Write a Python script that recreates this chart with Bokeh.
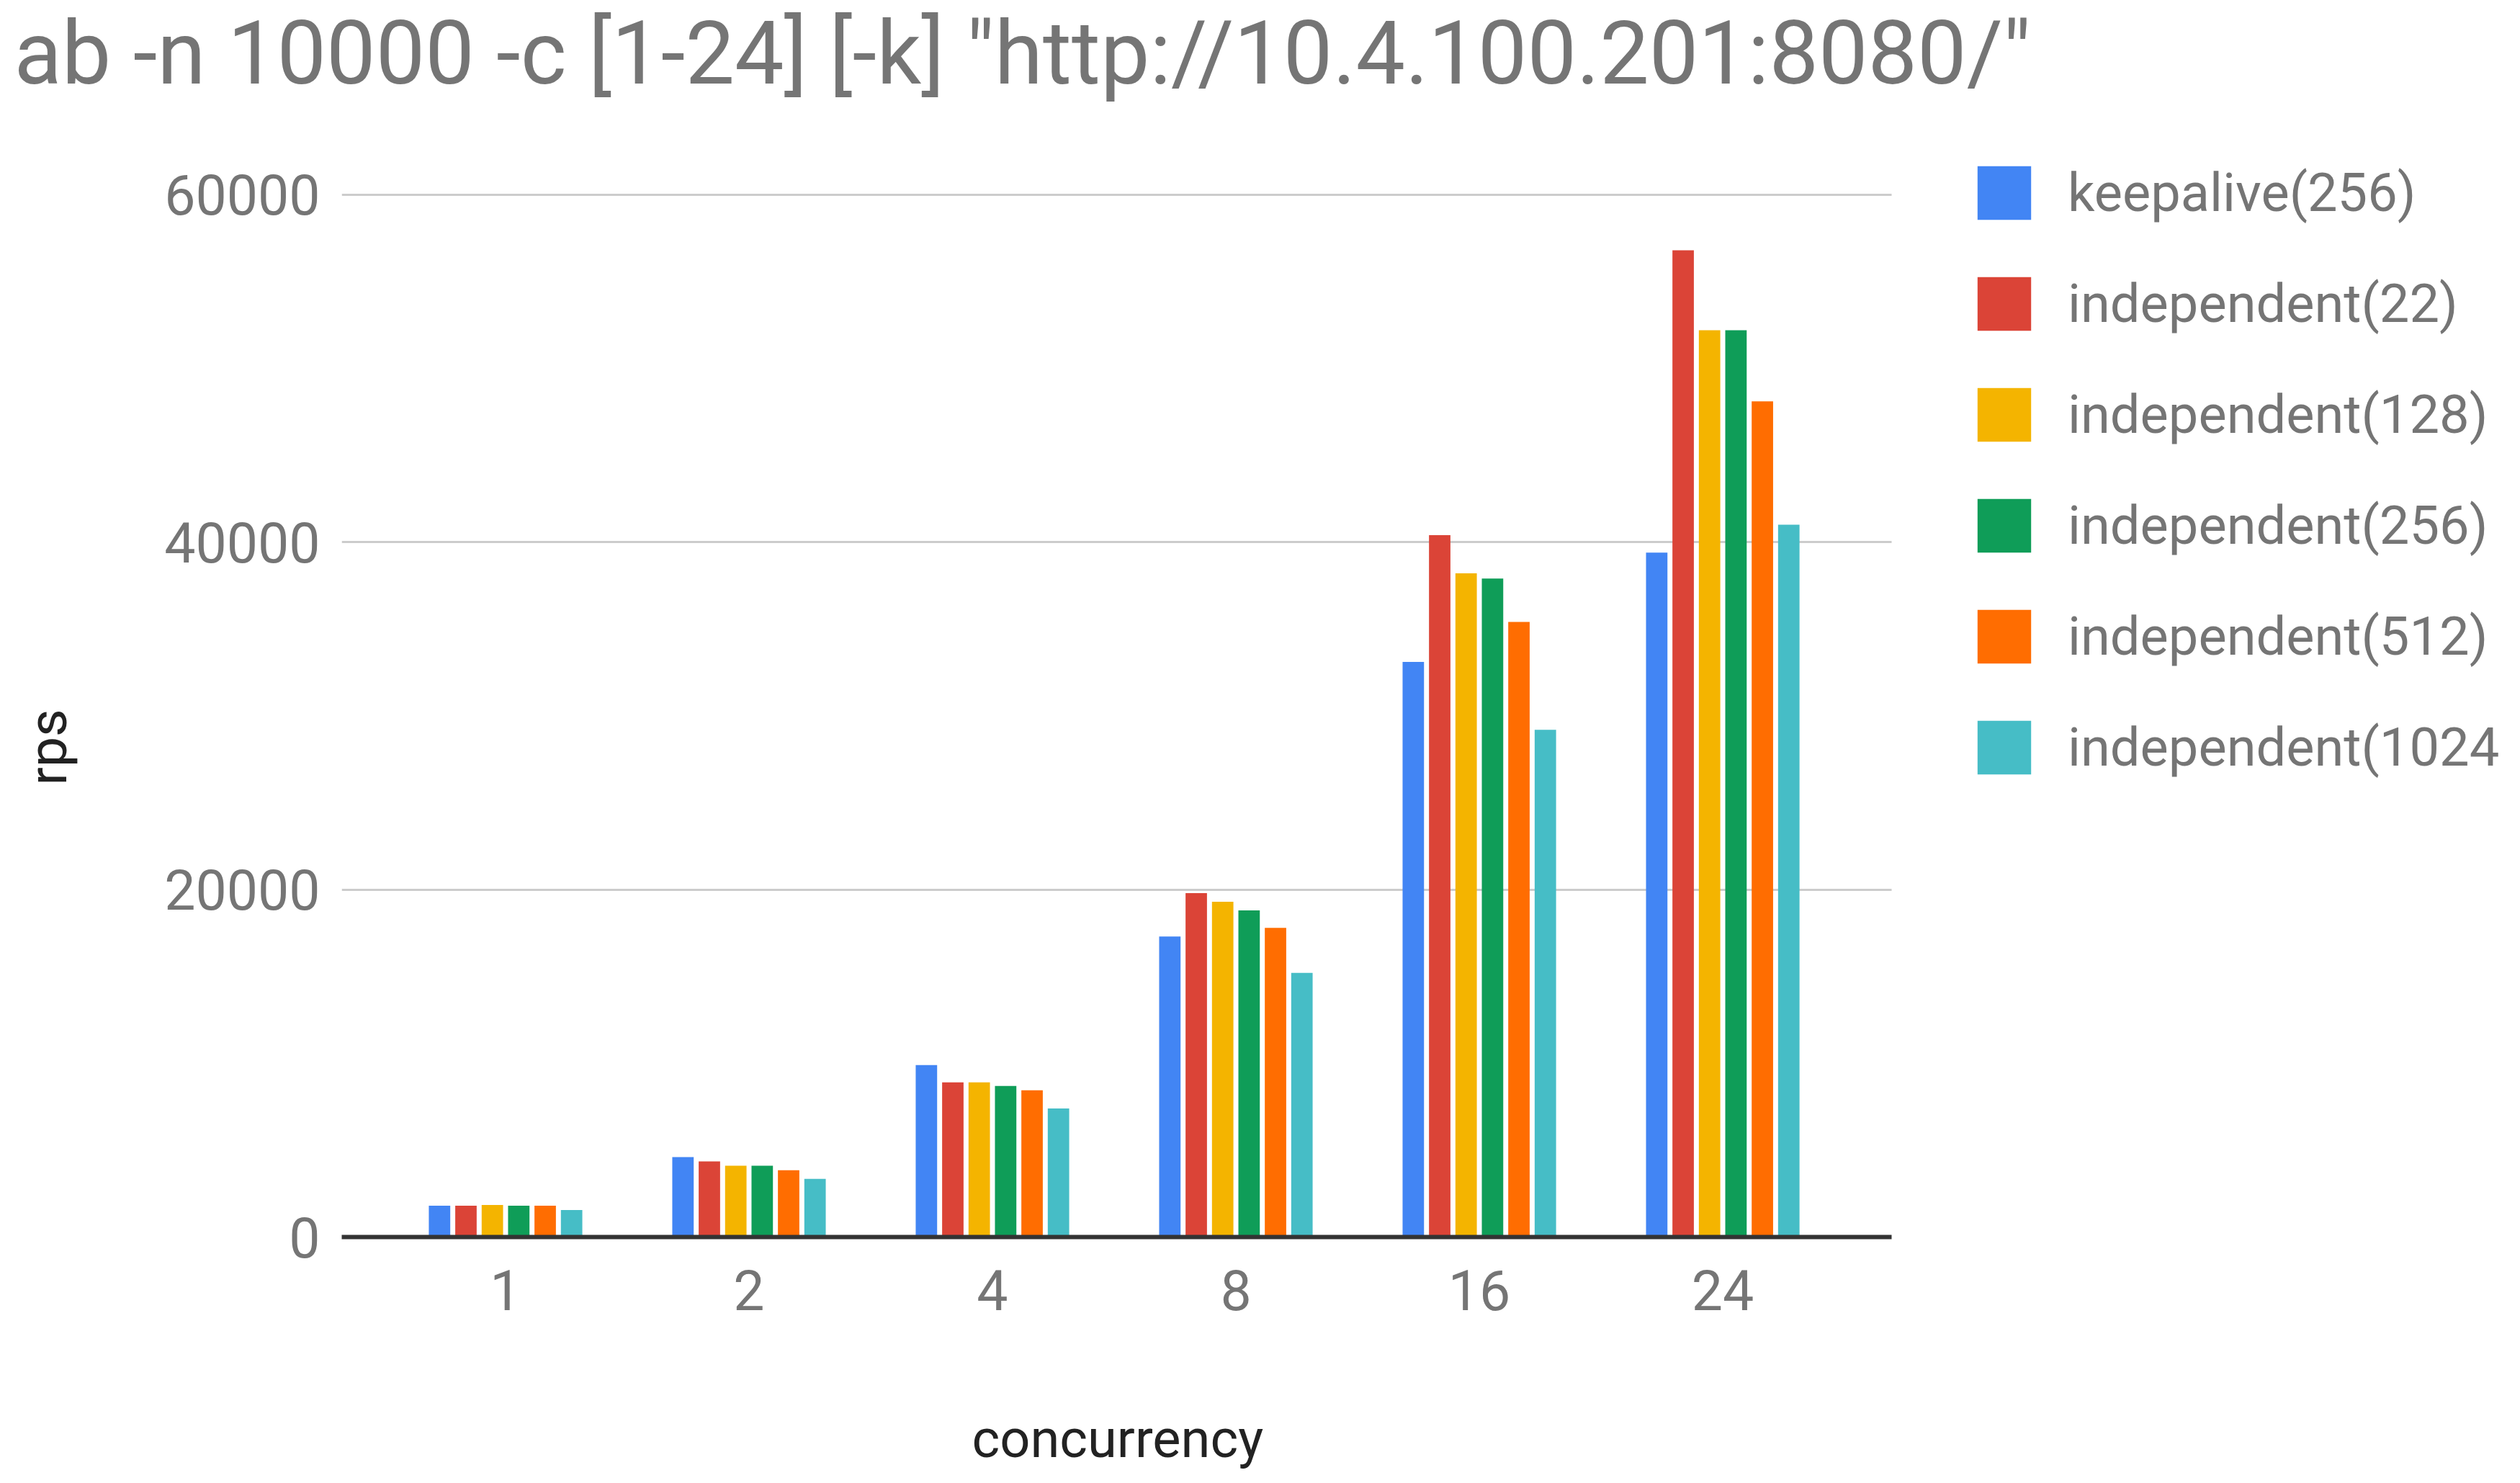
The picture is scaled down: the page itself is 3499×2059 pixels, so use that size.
from bokeh.plotting import figure
from bokeh.models import (Range1d, FixedTicker, Legend, LegendItem, ColumnDataSource,
                          LinearAxis, Title)
from bokeh.transform import dodge
from bokeh.embed import file_html
from bokeh.resources import INLINE

# ---- data ----
categories = ["1", "2", "4", "8", "16", "24"]
keepalive_256 = [1800, 4600, 9900, 17300, 33100, 39400]
independent_22 = [1800, 4350, 8900, 19800, 40400, 56800]
independent_128 = [1850, 4100, 8900, 19300, 38200, 52200]
independent_256 = [1800, 4100, 8700, 18800, 37900, 52200]
independent_512 = [1800, 3850, 8450, 17800, 35400, 48100]
independent_1024 = [1550, 3350, 7400, 15200, 29200, 41000]
series_names = ["keepalive(256)", "independent(22)", "independent(128)",
                "independent(256)", "independent(512)", "independent(1024"]
y_ticks = [0, 20000, 40000, 60000]
title_text = 'ab -n 10000 -c [1-24] [-k] "http://10.4.100.201:8080/"'
x_title = "concurrency"
y_title = "rps"

colors = ["#4285F4", "#DB4437", "#F4B400", "#0F9D58", "#FF6D01", "#46BDC6"]
FONT = "Roboto"

positions = list(range(len(categories)))
source = ColumnDataSource(data=dict(
    xi=positions, c=categories,
    s0=keepalive_256, s1=independent_22, s2=independent_128,
    s3=independent_256, s4=independent_512, s5=independent_1024,
))

# plot area spans to the right edge so that the legend can sit inside it
X_START, X_AXIS_END, X_END = -0.673, 5.694, 8.229
Y_END = 65172
p = figure(
    width=3483, height=2043,
    x_range=Range1d(X_START, X_END),
    y_range=Range1d(0, Y_END),
    output_backend="svg", toolbar_location=None,
    min_border_left=474, min_border_right=0, min_border_top=142, min_border_bottom=326,
    title=title_text,
)
p.background_fill_color = "white"
p.border_fill_color = "white"
p.outline_line_color = None

p.title.text_font = FONT
p.title.text_font_size = "122px"
p.title.text_font_style = "normal"
p.title.text_color = "#757575"
p.title.align = "left"
p.title.offset = -455
p.title.standoff = 0

pitch = 0.1085
bar_w = 0.088
items = []
for i, name in enumerate(series_names):
    r = p.vbar(x=dodge("xi", (i - 2.5) * pitch), top="s%d" % i,
               width=bar_w, source=source, fill_color=colors[i], line_color=None)
    items.append(LegendItem(label=name, renderers=[r]))

# x axis
p.xaxis.ticker = FixedTicker(ticks=positions)
p.xaxis.major_label_overrides = {i: c for i, c in zip(positions, categories)}
p.xaxis.bounds = (X_START, X_AXIS_END)
p.xaxis.axis_line_color = "#333333"
p.xaxis.axis_line_width = 6
p.xaxis.major_tick_line_color = None
p.xaxis.minor_tick_line_color = None
p.xaxis.major_tick_out = 0
p.xaxis.major_tick_in = 0
p.xaxis.major_label_standoff = 45
p.xaxis.major_label_text_font = FONT
p.xaxis.major_label_text_font_size = "77px"
p.xaxis.major_label_text_color = "#757575"
p.xaxis.major_label_text_line_height = 0.7

# y axis
p.yaxis.ticker = FixedTicker(ticks=y_ticks)
p.yaxis.axis_line_color = None
p.yaxis.major_tick_line_color = None
p.yaxis.minor_tick_line_color = None
p.yaxis.major_tick_out = 0
p.yaxis.major_tick_in = 0
p.yaxis.major_label_standoff = 30
p.yaxis.major_label_text_font = FONT
p.yaxis.major_label_text_font_size = "77px"
p.yaxis.major_label_text_color = "#757575"


def spacer(size, at):
    # a blank axis (one white tick in an empty corner, no label), used only
    # to reserve room in a side panel before the axis title
    return LinearAxis(ticker=FixedTicker(ticks=[at]), major_label_overrides={at: ""},
                      axis_line_color=None,
                      major_tick_line_color="#ffffff", minor_tick_line_color=None,
                      major_tick_out=size, major_tick_in=0, minor_tick_out=0,
                      minor_tick_in=0, major_label_standoff=0,
                      major_label_text_font_size="1px")


# axis titles
p.add_layout(spacer(132, (X_AXIS_END + X_END) / 2), "below")
p.add_layout(Title(text=x_title, text_font=FONT, text_font_size="74px",
                   text_font_style="normal", text_color="#222222",
                   align="left", offset=875, vertical_align="top", standoff=0), "below")
p.add_layout(spacer(114, (y_ticks[-1] + Y_END) / 2), "left")
p.add_layout(Title(text=y_title, text_font=FONT, text_font_size="75px",
                   text_font_style="normal", text_color="#222222",
                   align="left", offset=627, vertical_align="top", standoff=0), "left")

p.xgrid.grid_line_color = None
yg = p.ygrid[0]
yg.grid_line_color = "#cccccc"
yg.grid_line_width = 3
yg.ticker = FixedTicker(ticks=y_ticks)
yg.cross_bounds = (X_START, X_AXIS_END)

legend = Legend(items=items, location=(2262, 633), orientation="vertical",
                margin=0, padding=0, spacing=61,
                glyph_width=93, glyph_height=93, label_height=93,
                label_standoff=42,
                label_text_font=FONT, label_text_font_size="74px",
                label_text_color="#757575",
                border_line_color=None, background_fill_alpha=0)
p.add_layout(legend)

open("out.html", "w").write(file_html(p, INLINE))
